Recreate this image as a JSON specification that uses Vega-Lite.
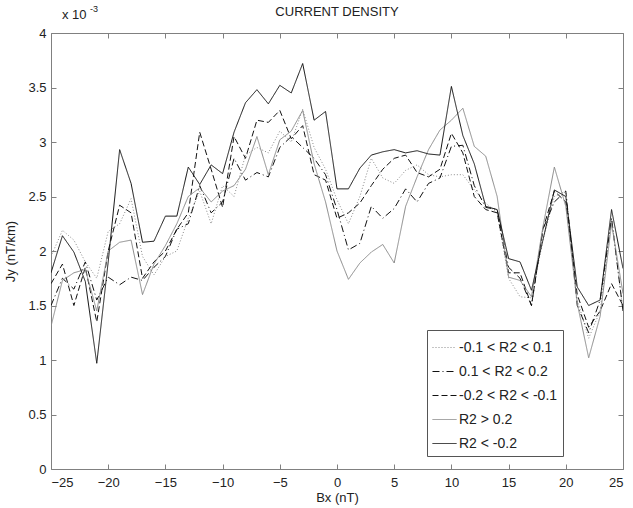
{
  "$schema": "https://vega.github.io/schema/vega-lite/v6.json",
  "width": 572,
  "height": 436,
  "autosize": "none",
  "padding": {"left": 51, "top": 33, "right": 10, "bottom": 39},
  "background": "white",
  "config": {
    "font": "Liberation Sans",
    "view": {"stroke": "#808080", "strokeWidth": 1},
    "axis": {"grid": false, "domain": false, "tickColor": "#808080", "tickSize": -5, "labelColor": "#222", "labelFontSize": 13, "titleFontSize": 13, "titleFontWeight": "normal", "titleColor": "#222", "labelFont": "Liberation Sans", "titleFont": "Liberation Sans"},
    "legend": {"strokeColor": "#555", "fillColor": "white", "padding": 5, "symbolType": "stroke", "symbolSize": 576, "labelFontSize": 14, "labelColor": "#222", "rowPadding": 4, "labelOffset": 2, "labelFont": "Liberation Sans"}
  },
  "title": {"text": "CURRENT DENSITY", "fontSize": 13, "fontWeight": "normal", "offset": 2, "dy": 16, "color": "#222", "font": "Liberation Sans"},
  "layer": [
    {
      "data": {"values": [
        {"bx":-25,"g":"-0.1 < R2 < 0.1","jy":1.95},{"bx":-24,"g":"-0.1 < R2 < 0.1","jy":2.19},{"bx":-23,"g":"-0.1 < R2 < 0.1","jy":2.1},{"bx":-22,"g":"-0.1 < R2 < 0.1","jy":1.9},{"bx":-21,"g":"-0.1 < R2 < 0.1","jy":1.75},{"bx":-20,"g":"-0.1 < R2 < 0.1","jy":2.18},{"bx":-19,"g":"-0.1 < R2 < 0.1","jy":2.25},{"bx":-18,"g":"-0.1 < R2 < 0.1","jy":2.48},{"bx":-17,"g":"-0.1 < R2 < 0.1","jy":1.95},{"bx":-16,"g":"-0.1 < R2 < 0.1","jy":1.78},{"bx":-15,"g":"-0.1 < R2 < 0.1","jy":1.95},{"bx":-14,"g":"-0.1 < R2 < 0.1","jy":2.0},{"bx":-13,"g":"-0.1 < R2 < 0.1","jy":2.3},{"bx":-12,"g":"-0.1 < R2 < 0.1","jy":2.55},{"bx":-11,"g":"-0.1 < R2 < 0.1","jy":2.25},{"bx":-10,"g":"-0.1 < R2 < 0.1","jy":2.6},{"bx":-9,"g":"-0.1 < R2 < 0.1","jy":2.5},{"bx":-8,"g":"-0.1 < R2 < 0.1","jy":2.88},{"bx":-7,"g":"-0.1 < R2 < 0.1","jy":2.95},{"bx":-6,"g":"-0.1 < R2 < 0.1","jy":2.9},{"bx":-5,"g":"-0.1 < R2 < 0.1","jy":3.1},{"bx":-4,"g":"-0.1 < R2 < 0.1","jy":3.0},{"bx":-3,"g":"-0.1 < R2 < 0.1","jy":3.3},{"bx":-2,"g":"-0.1 < R2 < 0.1","jy":2.95},{"bx":-1,"g":"-0.1 < R2 < 0.1","jy":2.75},{"bx":0,"g":"-0.1 < R2 < 0.1","jy":2.47},{"bx":1,"g":"-0.1 < R2 < 0.1","jy":2.25},{"bx":2,"g":"-0.1 < R2 < 0.1","jy":2.5},{"bx":3,"g":"-0.1 < R2 < 0.1","jy":2.85},{"bx":4,"g":"-0.1 < R2 < 0.1","jy":2.67},{"bx":5,"g":"-0.1 < R2 < 0.1","jy":2.62},{"bx":6,"g":"-0.1 < R2 < 0.1","jy":2.74},{"bx":7,"g":"-0.1 < R2 < 0.1","jy":2.79},{"bx":8,"g":"-0.1 < R2 < 0.1","jy":2.7},{"bx":9,"g":"-0.1 < R2 < 0.1","jy":2.68},{"bx":10,"g":"-0.1 < R2 < 0.1","jy":2.7},{"bx":11,"g":"-0.1 < R2 < 0.1","jy":2.7},{"bx":12,"g":"-0.1 < R2 < 0.1","jy":2.56},{"bx":13,"g":"-0.1 < R2 < 0.1","jy":2.44},{"bx":14,"g":"-0.1 < R2 < 0.1","jy":2.35},{"bx":15,"g":"-0.1 < R2 < 0.1","jy":1.75},{"bx":16,"g":"-0.1 < R2 < 0.1","jy":1.58},{"bx":17,"g":"-0.1 < R2 < 0.1","jy":1.57},{"bx":18,"g":"-0.1 < R2 < 0.1","jy":2.1},{"bx":19,"g":"-0.1 < R2 < 0.1","jy":2.5},{"bx":20,"g":"-0.1 < R2 < 0.1","jy":2.55},{"bx":21,"g":"-0.1 < R2 < 0.1","jy":1.55},{"bx":22,"g":"-0.1 < R2 < 0.1","jy":1.2},{"bx":23,"g":"-0.1 < R2 < 0.1","jy":1.45},{"bx":24,"g":"-0.1 < R2 < 0.1","jy":2.3},{"bx":25,"g":"-0.1 < R2 < 0.1","jy":1.45},
        {"bx":-25,"g":"0.1 < R2 < 0.2","jy":1.5},{"bx":-24,"g":"0.1 < R2 < 0.2","jy":1.75},{"bx":-23,"g":"0.1 < R2 < 0.2","jy":1.65},{"bx":-22,"g":"0.1 < R2 < 0.2","jy":1.9},{"bx":-21,"g":"0.1 < R2 < 0.2","jy":1.55},{"bx":-20,"g":"0.1 < R2 < 0.2","jy":1.76},{"bx":-19,"g":"0.1 < R2 < 0.2","jy":1.69},{"bx":-18,"g":"0.1 < R2 < 0.2","jy":1.76},{"bx":-17,"g":"0.1 < R2 < 0.2","jy":1.73},{"bx":-16,"g":"0.1 < R2 < 0.2","jy":1.85},{"bx":-15,"g":"0.1 < R2 < 0.2","jy":1.95},{"bx":-14,"g":"0.1 < R2 < 0.2","jy":2.2},{"bx":-13,"g":"0.1 < R2 < 0.2","jy":2.25},{"bx":-12,"g":"0.1 < R2 < 0.2","jy":2.6},{"bx":-11,"g":"0.1 < R2 < 0.2","jy":2.35},{"bx":-10,"g":"0.1 < R2 < 0.2","jy":2.45},{"bx":-9,"g":"0.1 < R2 < 0.2","jy":2.85},{"bx":-8,"g":"0.1 < R2 < 0.2","jy":2.65},{"bx":-7,"g":"0.1 < R2 < 0.2","jy":2.72},{"bx":-6,"g":"0.1 < R2 < 0.2","jy":2.68},{"bx":-5,"g":"0.1 < R2 < 0.2","jy":2.95},{"bx":-4,"g":"0.1 < R2 < 0.2","jy":3.05},{"bx":-3,"g":"0.1 < R2 < 0.2","jy":2.95},{"bx":-2,"g":"0.1 < R2 < 0.2","jy":2.85},{"bx":-1,"g":"0.1 < R2 < 0.2","jy":2.7},{"bx":0,"g":"0.1 < R2 < 0.2","jy":2.38},{"bx":1,"g":"0.1 < R2 < 0.2","jy":2.01},{"bx":2,"g":"0.1 < R2 < 0.2","jy":2.07},{"bx":3,"g":"0.1 < R2 < 0.2","jy":2.41},{"bx":4,"g":"0.1 < R2 < 0.2","jy":2.3},{"bx":5,"g":"0.1 < R2 < 0.2","jy":2.39},{"bx":6,"g":"0.1 < R2 < 0.2","jy":2.57},{"bx":7,"g":"0.1 < R2 < 0.2","jy":2.45},{"bx":8,"g":"0.1 < R2 < 0.2","jy":2.62},{"bx":9,"g":"0.1 < R2 < 0.2","jy":2.67},{"bx":10,"g":"0.1 < R2 < 0.2","jy":2.96},{"bx":11,"g":"0.1 < R2 < 0.2","jy":2.97},{"bx":12,"g":"0.1 < R2 < 0.2","jy":2.6},{"bx":13,"g":"0.1 < R2 < 0.2","jy":2.4},{"bx":14,"g":"0.1 < R2 < 0.2","jy":2.38},{"bx":15,"g":"0.1 < R2 < 0.2","jy":1.85},{"bx":16,"g":"0.1 < R2 < 0.2","jy":1.75},{"bx":17,"g":"0.1 < R2 < 0.2","jy":1.5},{"bx":18,"g":"0.1 < R2 < 0.2","jy":2.2},{"bx":19,"g":"0.1 < R2 < 0.2","jy":2.45},{"bx":20,"g":"0.1 < R2 < 0.2","jy":2.55},{"bx":21,"g":"0.1 < R2 < 0.2","jy":1.5},{"bx":22,"g":"0.1 < R2 < 0.2","jy":1.25},{"bx":23,"g":"0.1 < R2 < 0.2","jy":1.55},{"bx":24,"g":"0.1 < R2 < 0.2","jy":2.3},{"bx":25,"g":"0.1 < R2 < 0.2","jy":1.45},
        {"bx":-25,"g":"-0.2 < R2 < -0.1","jy":1.7},{"bx":-24,"g":"-0.2 < R2 < -0.1","jy":1.88},{"bx":-23,"g":"-0.2 < R2 < -0.1","jy":1.5},{"bx":-22,"g":"-0.2 < R2 < -0.1","jy":1.85},{"bx":-21,"g":"-0.2 < R2 < -0.1","jy":1.35},{"bx":-20,"g":"-0.2 < R2 < -0.1","jy":2.0},{"bx":-19,"g":"-0.2 < R2 < -0.1","jy":2.42},{"bx":-18,"g":"-0.2 < R2 < -0.1","jy":2.35},{"bx":-17,"g":"-0.2 < R2 < -0.1","jy":1.75},{"bx":-16,"g":"-0.2 < R2 < -0.1","jy":1.9},{"bx":-15,"g":"-0.2 < R2 < -0.1","jy":2.0},{"bx":-14,"g":"-0.2 < R2 < -0.1","jy":2.2},{"bx":-13,"g":"-0.2 < R2 < -0.1","jy":2.35},{"bx":-12,"g":"-0.2 < R2 < -0.1","jy":3.09},{"bx":-11,"g":"-0.2 < R2 < -0.1","jy":2.75},{"bx":-10,"g":"-0.2 < R2 < -0.1","jy":2.4},{"bx":-9,"g":"-0.2 < R2 < -0.1","jy":3.05},{"bx":-8,"g":"-0.2 < R2 < -0.1","jy":2.85},{"bx":-7,"g":"-0.2 < R2 < -0.1","jy":3.2},{"bx":-6,"g":"-0.2 < R2 < -0.1","jy":3.18},{"bx":-5,"g":"-0.2 < R2 < -0.1","jy":3.29},{"bx":-4,"g":"-0.2 < R2 < -0.1","jy":3.03},{"bx":-3,"g":"-0.2 < R2 < -0.1","jy":3.15},{"bx":-2,"g":"-0.2 < R2 < -0.1","jy":2.7},{"bx":-1,"g":"-0.2 < R2 < -0.1","jy":2.65},{"bx":0,"g":"-0.2 < R2 < -0.1","jy":2.3},{"bx":1,"g":"-0.2 < R2 < -0.1","jy":2.35},{"bx":2,"g":"-0.2 < R2 < -0.1","jy":2.44},{"bx":3,"g":"-0.2 < R2 < -0.1","jy":2.6},{"bx":4,"g":"-0.2 < R2 < -0.1","jy":2.75},{"bx":5,"g":"-0.2 < R2 < -0.1","jy":2.85},{"bx":6,"g":"-0.2 < R2 < -0.1","jy":2.88},{"bx":7,"g":"-0.2 < R2 < -0.1","jy":2.72},{"bx":8,"g":"-0.2 < R2 < -0.1","jy":2.68},{"bx":9,"g":"-0.2 < R2 < -0.1","jy":2.75},{"bx":10,"g":"-0.2 < R2 < -0.1","jy":3.08},{"bx":11,"g":"-0.2 < R2 < -0.1","jy":2.9},{"bx":12,"g":"-0.2 < R2 < -0.1","jy":2.5},{"bx":13,"g":"-0.2 < R2 < -0.1","jy":2.38},{"bx":14,"g":"-0.2 < R2 < -0.1","jy":2.35},{"bx":15,"g":"-0.2 < R2 < -0.1","jy":1.8},{"bx":16,"g":"-0.2 < R2 < -0.1","jy":1.8},{"bx":17,"g":"-0.2 < R2 < -0.1","jy":1.5},{"bx":18,"g":"-0.2 < R2 < -0.1","jy":2.2},{"bx":19,"g":"-0.2 < R2 < -0.1","jy":2.55},{"bx":20,"g":"-0.2 < R2 < -0.1","jy":2.45},{"bx":21,"g":"-0.2 < R2 < -0.1","jy":1.6},{"bx":22,"g":"-0.2 < R2 < -0.1","jy":1.3},{"bx":23,"g":"-0.2 < R2 < -0.1","jy":1.45},{"bx":24,"g":"-0.2 < R2 < -0.1","jy":1.7},{"bx":25,"g":"-0.2 < R2 < -0.1","jy":1.5},
        {"bx":-25,"g":"R2 > 0.2","jy":1.31},{"bx":-24,"g":"R2 > 0.2","jy":1.73},{"bx":-23,"g":"R2 > 0.2","jy":1.8},{"bx":-22,"g":"R2 > 0.2","jy":1.83},{"bx":-21,"g":"R2 > 0.2","jy":1.45},{"bx":-20,"g":"R2 > 0.2","jy":2.0},{"bx":-19,"g":"R2 > 0.2","jy":2.08},{"bx":-18,"g":"R2 > 0.2","jy":2.1},{"bx":-17,"g":"R2 > 0.2","jy":1.6},{"bx":-16,"g":"R2 > 0.2","jy":1.88},{"bx":-15,"g":"R2 > 0.2","jy":2.05},{"bx":-14,"g":"R2 > 0.2","jy":2.25},{"bx":-13,"g":"R2 > 0.2","jy":2.5},{"bx":-12,"g":"R2 > 0.2","jy":2.58},{"bx":-11,"g":"R2 > 0.2","jy":2.45},{"bx":-10,"g":"R2 > 0.2","jy":2.55},{"bx":-9,"g":"R2 > 0.2","jy":2.6},{"bx":-8,"g":"R2 > 0.2","jy":2.75},{"bx":-7,"g":"R2 > 0.2","jy":3.05},{"bx":-6,"g":"R2 > 0.2","jy":2.7},{"bx":-5,"g":"R2 > 0.2","jy":3.02},{"bx":-4,"g":"R2 > 0.2","jy":3.1},{"bx":-3,"g":"R2 > 0.2","jy":3.29},{"bx":-2,"g":"R2 > 0.2","jy":2.8},{"bx":-1,"g":"R2 > 0.2","jy":2.45},{"bx":0,"g":"R2 > 0.2","jy":2.0},{"bx":1,"g":"R2 > 0.2","jy":1.74},{"bx":2,"g":"R2 > 0.2","jy":1.89},{"bx":3,"g":"R2 > 0.2","jy":1.99},{"bx":4,"g":"R2 > 0.2","jy":2.06},{"bx":5,"g":"R2 > 0.2","jy":1.89},{"bx":6,"g":"R2 > 0.2","jy":2.41},{"bx":7,"g":"R2 > 0.2","jy":2.68},{"bx":8,"g":"R2 > 0.2","jy":2.93},{"bx":9,"g":"R2 > 0.2","jy":3.11},{"bx":10,"g":"R2 > 0.2","jy":3.2},{"bx":11,"g":"R2 > 0.2","jy":3.31},{"bx":12,"g":"R2 > 0.2","jy":2.96},{"bx":13,"g":"R2 > 0.2","jy":2.87},{"bx":14,"g":"R2 > 0.2","jy":2.5},{"bx":15,"g":"R2 > 0.2","jy":1.76},{"bx":16,"g":"R2 > 0.2","jy":1.73},{"bx":17,"g":"R2 > 0.2","jy":1.58},{"bx":18,"g":"R2 > 0.2","jy":2.22},{"bx":19,"g":"R2 > 0.2","jy":2.77},{"bx":20,"g":"R2 > 0.2","jy":2.41},{"bx":21,"g":"R2 > 0.2","jy":1.52},{"bx":22,"g":"R2 > 0.2","jy":1.02},{"bx":23,"g":"R2 > 0.2","jy":1.4},{"bx":24,"g":"R2 > 0.2","jy":2.25},{"bx":25,"g":"R2 > 0.2","jy":1.61},
        {"bx":-25,"g":"R2 < -0.2","jy":1.8},{"bx":-24,"g":"R2 < -0.2","jy":2.14},{"bx":-23,"g":"R2 < -0.2","jy":1.99},{"bx":-22,"g":"R2 < -0.2","jy":1.72},{"bx":-21,"g":"R2 < -0.2","jy":0.97},{"bx":-20,"g":"R2 < -0.2","jy":1.9},{"bx":-19,"g":"R2 < -0.2","jy":2.93},{"bx":-18,"g":"R2 < -0.2","jy":2.62},{"bx":-17,"g":"R2 < -0.2","jy":2.08},{"bx":-16,"g":"R2 < -0.2","jy":2.09},{"bx":-15,"g":"R2 < -0.2","jy":2.32},{"bx":-14,"g":"R2 < -0.2","jy":2.32},{"bx":-13,"g":"R2 < -0.2","jy":2.77},{"bx":-12,"g":"R2 < -0.2","jy":2.61},{"bx":-11,"g":"R2 < -0.2","jy":2.79},{"bx":-10,"g":"R2 < -0.2","jy":2.71},{"bx":-9,"g":"R2 < -0.2","jy":3.09},{"bx":-8,"g":"R2 < -0.2","jy":3.36},{"bx":-7,"g":"R2 < -0.2","jy":3.48},{"bx":-6,"g":"R2 < -0.2","jy":3.35},{"bx":-5,"g":"R2 < -0.2","jy":3.52},{"bx":-4,"g":"R2 < -0.2","jy":3.45},{"bx":-3,"g":"R2 < -0.2","jy":3.72},{"bx":-2,"g":"R2 < -0.2","jy":3.2},{"bx":-1,"g":"R2 < -0.2","jy":3.28},{"bx":0,"g":"R2 < -0.2","jy":2.57},{"bx":1,"g":"R2 < -0.2","jy":2.57},{"bx":2,"g":"R2 < -0.2","jy":2.76},{"bx":3,"g":"R2 < -0.2","jy":2.88},{"bx":4,"g":"R2 < -0.2","jy":2.91},{"bx":5,"g":"R2 < -0.2","jy":2.93},{"bx":6,"g":"R2 < -0.2","jy":2.9},{"bx":7,"g":"R2 < -0.2","jy":2.92},{"bx":8,"g":"R2 < -0.2","jy":2.89},{"bx":9,"g":"R2 < -0.2","jy":2.88},{"bx":10,"g":"R2 < -0.2","jy":3.51},{"bx":11,"g":"R2 < -0.2","jy":3.06},{"bx":12,"g":"R2 < -0.2","jy":2.8},{"bx":13,"g":"R2 < -0.2","jy":2.41},{"bx":14,"g":"R2 < -0.2","jy":2.38},{"bx":15,"g":"R2 < -0.2","jy":1.93},{"bx":16,"g":"R2 < -0.2","jy":1.9},{"bx":17,"g":"R2 < -0.2","jy":1.64},{"bx":18,"g":"R2 < -0.2","jy":2.1},{"bx":19,"g":"R2 < -0.2","jy":2.56},{"bx":20,"g":"R2 < -0.2","jy":2.5},{"bx":21,"g":"R2 < -0.2","jy":1.67},{"bx":22,"g":"R2 < -0.2","jy":1.5},{"bx":23,"g":"R2 < -0.2","jy":1.55},{"bx":24,"g":"R2 < -0.2","jy":2.38},{"bx":25,"g":"R2 < -0.2","jy":1.84}
      ]},
      "mark": {"type": "line", "clip": true},
      "encoding": {
        "x": {"field": "bx", "type": "quantitative", "scale": {"domain": [-25, 25], "nice": false, "zero": false},
              "axis": {"values": [-25,-20,-15,-10,-5,0,5,10,15,20,25], "title": "Bx (nT)", "titlePadding": 2, "labelPadding": 12, "format": "~g"}},
        "y": {"field": "jy", "type": "quantitative", "scale": {"domain": [0, 4], "nice": false},
              "axis": {"values": [0,0.5,1,1.5,2,2.5,3,3.5,4], "title": "Jy (nT/km)", "titlePadding": 10, "labelPadding": 10, "format": "~g"}},
        "color": {"field": "g", "type": "nominal",
                  "scale": {"domain": ["-0.1 < R2 < 0.1","0.1 < R2 < 0.2","-0.2 < R2 < -0.1","R2 > 0.2","R2 < -0.2"], "range": ["#8a8a8a","#111111","#111111","#8a8a8a","#111111"]},
                  "legend": {"title": null, "orient": "none", "legendX": 376, "legendY": 297}},
        "strokeDash": {"field": "g", "type": "nominal",
                  "scale": {"domain": ["-0.1 < R2 < 0.1","0.1 < R2 < 0.2","-0.2 < R2 < -0.1","R2 > 0.2","R2 < -0.2"], "range": [[1,2],[7,3,1,3],[6,3],[1,0],[1,0]]},
                  "legend": {"title": null, "orient": "none", "legendX": 376, "legendY": 297}},
        "strokeWidth": {"field": "g", "type": "nominal",
                  "scale": {"domain": ["-0.1 < R2 < 0.1","0.1 < R2 < 0.2","-0.2 < R2 < -0.1","R2 > 0.2","R2 < -0.2"], "range": [1,1,1.2,0.9,1.6]},
                  "legend": {"title": null, "orient": "none", "legendX": 376, "legendY": 297}}
      }
    },
    {
      "data": {"values": [{"bx": -25, "jy": 4, "t": "x 10"}]},
      "mark": {"type": "text", "align": "left", "baseline": "alphabetic", "dx": 11, "dy": -14, "fontSize": 13, "color": "#222"},
      "encoding": {
        "x": {"field": "bx", "type": "quantitative", "axis": {"orient": "top", "labels": false, "title": null, "values": [-25,-20,-15,-10,-5,0,5,10,15,20,25]}},
        "y": {"field": "jy", "type": "quantitative", "axis": {"orient": "right", "labels": false, "title": null, "values": [0,0.5,1,1.5,2,2.5,3,3.5,4]}},
        "text": {"field": "t"}
      }
    },
    {
      "data": {"values": [{"bx": -25, "jy": 4, "t": "-3"}]},
      "mark": {"type": "text", "align": "left", "baseline": "alphabetic", "dx": 39, "dy": -21, "fontSize": 9, "color": "#222"},
      "encoding": {
        "x": {"field": "bx", "type": "quantitative", "axis": null},
        "y": {"field": "jy", "type": "quantitative", "axis": null},
        "text": {"field": "t"}
      }
    }
  ],
  "resolve": {"axis": {"x": "independent", "y": "independent"}}
}
